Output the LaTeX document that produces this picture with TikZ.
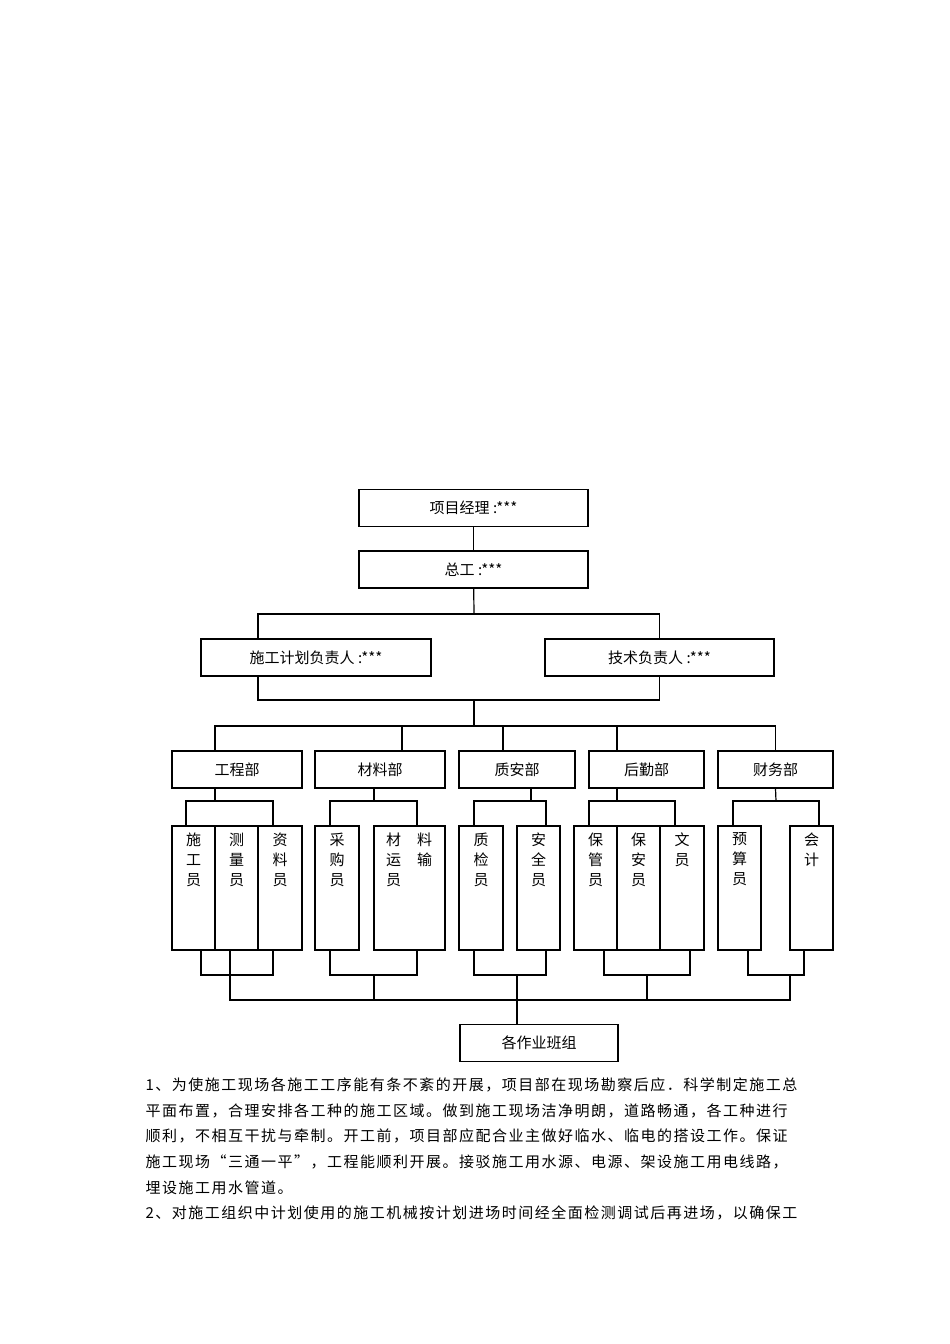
\documentclass[tikz,border=0pt]{standalone}
\usepackage{fontspec}
\setmainfont{Noto Sans CJK SC}
\newfontfamily\parafont[LetterSpace=10]{Noto Sans CJK SC}
\usetikzlibrary{positioning}

\tikzset{
  box/.style={draw,line width=1.2pt,minimum height=37pt,inner sep=0pt,font=\fontsize{15}{18}\selectfont},
  sub/.style={draw,line width=1.2pt,minimum height=124pt,inner sep=0pt},
  vtext/.style={align=center,inner sep=0pt,font=\fontsize{15}{20}\selectfont},
  para/.style={anchor=west,inner sep=0pt,font=\parafont\fontsize{15}{18}\selectfont},
}

\begin{document}
\begin{tikzpicture}[x=1pt,y=-1pt,line width=1.2pt]
\useasboundingbox (0,0) rectangle (950,1344);
%% top
\node (pm) at (473.5,508) [box,minimum width=229pt] {项目经理 :***};
\node (zg) at (473.5,569.5) [box,minimum width=229pt] {总工 :***};
\node (sg) at (316,657.5) [box,minimum width=230pt] {施工计划负责人 :***};
\node (js) at (659.5,657.5) [box,minimum width=229pt] {技术负责人 :***};
\coordinate (t1) at (474,614);
\coordinate (b1) at (474,700);
\coordinate (t2) at (474,726);
\draw (pm) -- (zg);
\draw (zg) -- (t1);
\draw ([xshift=-58pt]sg.north) |- (t1) -| (js.north);
\draw ([xshift=-58pt]sg.south) |- (b1) -| (js.south);
\draw (b1) -- (t2);
%% departments
\node (gcb) at (237,769.5) [box,minimum width=130pt] {工程部};
\node (clb) at (380,769.5) [box,minimum width=130pt] {材料部};
\node (zab) at (517,769.5) [box,minimum width=116pt] {质安部};
\node (hqb) at (646.5,769.5) [box,minimum width=115pt] {后勤部};
\node (cwb) at (775.5,769.5) [box,minimum width=115pt] {财务部};
\draw ([xshift=-22pt]gcb.north) |- (t2) -| (cwb.north);
\draw (t2) -| ([xshift=22pt]clb.north);
\draw (t2) -| ([xshift=-14pt]zab.north);
\draw (t2) -| ([xshift=-29.5pt]hqb.north);
%% staff
\node (sgy) at (193.5,888) [sub,minimum width=43pt] {};
\node (cly) at (236.5,888) [sub,minimum width=43pt] {};
\node (zly) at (280,888) [sub,minimum width=44pt] {};
\node (cgy) at (337,888) [sub,minimum width=44pt] {};
\node (ysy) at (409.5,888) [sub,minimum width=71pt] {};
\node (zjy) at (481,888) [sub,minimum width=44pt] {};
\node (aqy) at (538.5,888) [sub,minimum width=43pt] {};
\node (bgy) at (595.5,888) [sub,minimum width=43pt] {};
\node (bay) at (638.5,888) [sub,minimum width=43pt] {};
\node (wy) at (682,888) [sub,minimum width=44pt] {};
\node (ysn) at (739.5,888) [sub,minimum width=43pt] {};
\node (kj) at (811.5,888) [sub,minimum width=43pt] {};
\node [below=7pt of sgy.north,vtext] {施\\工\\员};
\node [below=7pt of cly.north,vtext] {测\\量\\员};
\node [below=7pt of zly.north,vtext] {资\\料\\员};
\node [below=7pt of cgy.north,vtext] {采\\购\\员};
\node [below=7pt of ysy.north,xshift=-16pt,vtext] {材\\运\\员};
\node [below=7pt of ysy.north,xshift=15pt,vtext] {料\\输};
\node [below=7pt of zjy.north,vtext] {质\\检\\员};
\node [below=7pt of aqy.north,vtext] {安\\全\\员};
\node [below=7pt of bgy.north,vtext] {保\\管\\员};
\node [below=7pt of bay.north,vtext] {保\\安\\员};
\node [below=7pt of wy.north,vtext] {文\\员};
\node [below=7pt of ysn.north,vtext] {预\\算\\员};
\node [below=7pt of kj.north,vtext] {会\\计};
%% upper brackets
\coordinate (u1) at (215,801);
\coordinate (u2) at (374,801);
\coordinate (u3) at (531,801);
\coordinate (u4) at (617,801);
\coordinate (u5) at (776,801);
\draw ([xshift=-22pt]gcb.south) -- (u1);
\draw ([xshift=-6pt]clb.south) -- (u2);
\draw ([xshift=14pt]zab.south) -- (u3);
\draw ([xshift=-29.5pt]hqb.south) -- (u4);
\draw (cwb.south) -- (u5);
\draw ([xshift=-7.5pt]sgy.north) |- (u1) -| ([xshift=-7pt]zly.north);
\draw ([xshift=-7pt]cgy.north) |- (u2) -| ([xshift=7.5pt]ysy.north);
\draw ([xshift=-7pt]zjy.north) |- (u3) -| ([xshift=7.5pt]aqy.north);
\draw ([xshift=-6.5pt]bgy.north) |- (u4) -| ([xshift=-7pt]wy.north);
\draw ([xshift=-6.5pt]ysn.north) |- (u5) -| ([xshift=7.5pt]kj.north);
%% lower brackets
\node (bz) at (539,1043) [box,minimum width=158pt] {各作业班组};
\coordinate (l1) at (230,975);
\coordinate (l2) at (374,975);
\coordinate (l3) at (517,975);
\coordinate (l4) at (647,975);
\coordinate (l5) at (790,975);
\coordinate (m) at (517,1000);
\draw ([xshift=7.5pt]sgy.south) |- (l1) -| ([xshift=-7pt]zly.south);
\draw ([xshift=-7pt]cgy.south) |- (l2) -| ([xshift=7.5pt]ysy.south);
\draw ([xshift=-7pt]zjy.south) |- (l3) -| ([xshift=7.5pt]aqy.south);
\draw ([xshift=8.5pt]bgy.south) |- (l4) -| ([xshift=8pt]wy.south);
\draw ([xshift=8.5pt]ysn.south) |- (l5) -| ([xshift=-7.5pt]kj.south);
\draw ([xshift=-6.5pt]cly.south) |- (m) -| (l5);
\draw (l2) |- (m);
\draw (m) -| (l4);
\draw (l3) -- ([xshift=-22pt]bz.north);
%% text
\node (p1) at (145,1085) [para] {1、为使施工现场各施工工序能有条不紊的开展，项目部在现场勘察后应．科学制定施工总};
\node (p2) at (145,1110.6) [para] {平面布置，合理安排各工种的施工区域。做到施工现场洁净明朗，道路畅通，各工种进行};
\node (p3) at (145,1136.2) [para] {顺利，不相互干扰与牵制。开工前，项目部应配合业主做好临水、临电的搭设工作。保证};
\node (p4) at (145,1161.8) [para] {施工现场“三通一平”，工程能顺利开展。接驳施工用水源、电源、架设施工用电线路，};
\node (p5) at (145,1187.4) [para] {埋设施工用水管道。};
\node (p6) at (145,1213) [para] {2、对施工组织中计划使用的施工机械按计划进场时间经全面检测调试后再进场，以确保工};
\end{tikzpicture}
\end{document}
